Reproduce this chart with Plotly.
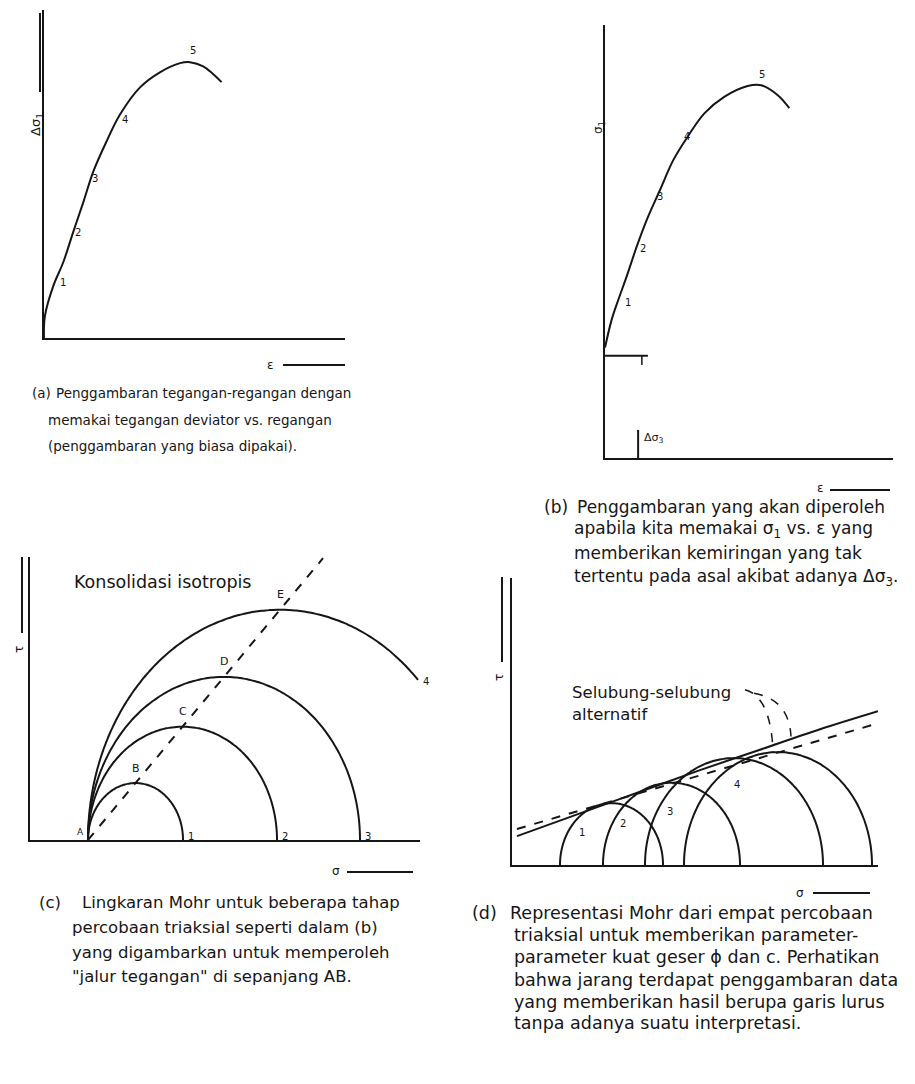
import numpy as np
import plotly.graph_objects as go

W, H = 915, 1084
INK = "#161616"
FONT = "DejaVu Sans"

# ---------------------------------------------------------------------------
# data
# ---------------------------------------------------------------------------

# (a) deviator stress vs strain
a_strain = [0, 0.3, 3.1, 6.4, 9.7, 13.1, 16.4, 20.8, 25.3, 31.9, 38.5, 45.2, 48.5, 52.9, 59.0]
a_dev = [0, 6.7, 15.9, 23.1, 32.3, 41.5, 50.8, 60.0, 68.2, 76.4, 81.0, 83.8, 84.1, 82.8, 78.0]
a_stage = ["1", "2", "3", "4", "5"]
a_stage_x = [6.4, 11.4, 16.9, 26.9, 49.4]
a_stage_y = [16.9, 32.3, 48.7, 66.7, 87.7]

# (b) sigma1 vs strain, starting at the delta-sigma3 offset
b_strain = [0, 2.3, 4.6, 7.5, 11.0, 14.5, 19.1, 23.7, 28.7, 34.5, 41.4, 49.5, 54.2, 60.0, 64.0]
b_sigma1 = [25.5, 31.9, 36.5, 41.9, 48.8, 55.0, 61.9, 68.8, 74.2, 79.6, 83.4, 85.9, 86.1, 83.8, 80.8]
b_stage = ["1", "2", "3", "4", "5"]
b_stage_x = [8.0, 13.2, 19.1, 28.4, 54.4]
b_stage_y = [36.0, 48.3, 60.3, 74.2, 88.5]
b_d3_level = 23.6
b_d3_strain = 11.5

# (c) Mohr circles, isotropic consolidation (all share sigma3 at A)
c_sigma3 = [58, 58, 58, 58]
c_sigma1 = [153, 247, 330, 442]
c_arc_end = [153, 247, 330, 388]
c_circle_lbl = ["1", "2", "3", "4"]
c_top_lbl = ["B", "C", "D", "E"]
c_path_x = [58, 293]
c_path_y = [0, 235]

# (d) Mohr circles of four triaxial tests and alternative envelopes
d_sigma3 = [48, 91, 133, 172]
d_sigma1 = [151, 228, 311, 360]
d_lbl = ["1", "2", "3", "4"]
d_lbl_x = [69.7, 111.3, 158.0, 224.7]
d_lbl_y = [26.8, 34.3, 44.8, 67.3]
d_env_x = [5, 68, 128, 188, 248, 308, 366]
d_env_y = [24, 43, 61, 79, 96, 113, 128]
d_env2_x = [5, 366]
d_env2_y = [30, 118]

cap_a = ["Penggambaran tegangan-regangan dengan",
         "memakai tegangan deviator vs. regangan",
         "(penggambaran yang biasa dipakai)."]
cap_b = ["Penggambaran yang akan diperoleh",
         "apabila kita memakai σ<sub>1</sub> vs. ε yang",
         "memberikan kemiringan yang tak",
         "tertentu pada asal akibat adanya Δσ<sub>3</sub>."]
cap_c = ["Lingkaran Mohr untuk beberapa tahap",
         "percobaan triaksial seperti dalam (b)",
         "yang digambarkan untuk memperoleh",
         "\"jalur tegangan\" di sepanjang AB."]
cap_d = ["Representasi Mohr dari empat percobaan",
         "triaksial untuk memberikan parameter-",
         "parameter kuat geser ϕ dan c. Perhatikan",
         "bahwa jarang terdapat penggambaran data",
         "yang memberikan hasil berupa garis lurus",
         "tanpa adanya suatu interpretasi."]


def px(x):
    return x / W


def py(y):
    return 1 - y / H


def semicircle(s3, s1, s_end):
    c, r = (s1 + s3) / 2, (s1 - s3) / 2
    t_end = np.arccos(np.clip((s_end - c) / r, -1, 1))
    t = np.linspace(np.pi, t_end, 120)
    return c + r * np.cos(t), r * np.sin(t)


fig = go.Figure()


def line(x, y, ax, dash="solid", width=2):
    fig.add_trace(go.Scatter(x=x, y=y, xaxis="x" + ax, yaxis="y" + ax, mode="lines",
                             line=dict(color=INK, width=width, dash=dash, shape="spline"),
                             hoverinfo="skip", showlegend=False))


def note(text, x, y, size=13, xanchor="left", angle=0, ref=None, **kw):
    if ref is None:
        xr, yr, x, y = "paper", "paper", px(x), py(y)
    else:
        xr, yr = "x" + ref, "y" + ref
    fig.add_annotation(text=text, x=x, y=y, xref=xr, yref=yr, showarrow=False,
                       xanchor=xanchor, yanchor="middle", textangle=angle,
                       font=dict(family=FONT, size=size, color=INK), **kw)


def seg(x0, y0, x1, y1, width=2):
    fig.add_shape(type="line", xref="paper", yref="paper", x0=px(x0), y0=py(y0),
                  x1=px(x1), y1=py(y1), line=dict(color=INK, width=width))


# ---- (a) --------------------------------------------------------------------
line(a_strain, a_dev, "")
for t, x, y in zip(a_stage, a_stage_x, a_stage_y):
    note(t, x, y, size=10, ref="", xanchor="center")
note("Δσ<sub>1</sub>", 36, 125, size=13, xanchor="center", angle=-90)
seg(40, 13, 40, 92)
note("ε", 270, 365, size=12, xanchor="center")
seg(283, 365, 345, 365)

# ---- (b) --------------------------------------------------------------------
line(b_strain, b_sigma1, "2")
line([0, 14.9], [b_d3_level, b_d3_level], "2")
line([12.8, 12.8], [b_d3_level, b_d3_level - 2.1], "2", width=1.5)
line([b_d3_strain, b_d3_strain], [0, 6.5], "2")
note("Δσ<sub>3</sub>", 17, 4.6, size=11, ref="2", xanchor="center")
for t, x, y in zip(b_stage, b_stage_x, b_stage_y):
    note(t, x, y, size=10, ref="2", xanchor="center")
note("σ<sub>1</sub>", 599, 128, size=12, xanchor="center", angle=-90)
seg(604, 26, 604, 107)
note("ε", 820, 488, size=12, xanchor="center")
seg(830, 490, 890, 490)

# ---- (c) --------------------------------------------------------------------
for s3, s1, se in zip(c_sigma3, c_sigma1, c_arc_end):
    cx, cy = semicircle(s3, s1, se)
    line(cx, cy, "3")
line(c_path_x, c_path_y, "3", dash="dash")
for i, (s3, s1) in enumerate(zip(c_sigma3, c_sigma1)):
    r = (s1 - s3) / 2
    note(c_top_lbl[i], s3 + r, r, size=11, ref="3", xanchor="center", yshift=15)
    if i < 3:
        note(c_circle_lbl[i], s1, 0, size=10, ref="3", xanchor="left", xshift=3, yshift=4)
cx4, cy4 = semicircle(c_sigma3[3], c_sigma1[3], c_arc_end[3])
note(c_circle_lbl[3], cx4[-1], cy4[-1], size=10, ref="3", xanchor="left", xshift=3, yshift=-2)
note("A", c_sigma3[0], 0, size=9, ref="3", xanchor="right", xshift=-2, yshift=8)
note("Konsolidasi isotropis", 72, 582, size=17.5)
note("τ", 19, 650, size=12, xanchor="center", angle=-90)
seg(22, 557, 22, 633)
note("σ", 336, 871, size=12, xanchor="center")
seg(347, 872, 413, 872)

# ---- (d) --------------------------------------------------------------------
for s3, s1 in zip(d_sigma3, d_sigma1):
    cx, cy = semicircle(s3, s1, s1)
    line(cx, cy, "4")
line(d_env_x, d_env_y, "4")
line(d_env2_x, d_env2_y, "4", dash="dash")
for t, x, y in zip(d_lbl, d_lbl_x, d_lbl_y):
    note(t, x, y, size=10, ref="4", xanchor="center")
note("Selubung-selubung", 570, 693, size=16.5)
note("alternatif", 570, 714, size=16.5)
for path in ("M 233,146 Q 259,140 261,94", "M 242,143 Q 277,138 279,107"):
    fig.add_shape(type="path", xref="x4", yref="y4", path=path,
                  line=dict(color=INK, width=1.5, dash="dash"))
note("τ", 499, 678, size=12, xanchor="center", angle=-90)
seg(502, 577, 502, 662)
note("σ", 800, 893, size=12, xanchor="center")
seg(813, 893, 870, 893)

# ---- captions ---------------------------------------------------------------
note("(a)", 30, 393, size=13.5)
for i, (t, y) in enumerate(zip(cap_a, [393, 420, 446])):
    note(t, 54 if i == 0 else 46, y, size=13.5)
note("(b)", 542, 507, size=17)
for i, (t, y) in enumerate(zip(cap_b, [507, 530, 553, 577])):
    note(t, 575 if i == 0 else 572, y, size=17)
note("(c)", 37, 902, size=16.5)
for i, (t, y) in enumerate(zip(cap_c, [902, 927, 952, 976])):
    note(t, 80 if i == 0 else 70, y, size=16.5)
note("(d)", 470, 913, size=17.5)
for i, (t, y) in enumerate(zip(cap_d, [913, 935, 957, 980, 1002, 1023])):
    note(t, 508 if i == 0 else 512, y, size=17.5)

# ---- axes -------------------------------------------------------------------
panels = {
    "": ((44, 345), (10, 338), (0, 100), (0, 100)),
    "2": ((605, 893), (25, 458), (0, 100), (0, 100)),
    "3": ((30, 420), (557, 840), (0, 390), (0, 236)),
    "4": ((512, 878), (578, 865), (0, 366), (0, 239)),
}
ax_style = dict(showgrid=False, zeroline=False, showticklabels=False, ticks="",
                showline=True, linecolor=INK, linewidth=2, fixedrange=True)
for k, (xd, yd, xr, yr) in panels.items():
    fig.update_layout({
        "xaxis" + k: dict(domain=[px(xd[0]), px(xd[1])], range=list(xr),
                          anchor="y" + k, **ax_style),
        "yaxis" + k: dict(domain=[py(yd[1]), py(yd[0])], range=list(yr),
                          anchor="x" + k, **ax_style),
    })

fig.update_layout(width=W, height=H, autosize=False,
                  margin=dict(l=0, r=0, t=0, b=0),
                  paper_bgcolor="white", plot_bgcolor="white")

fig.write_html("out.html", config={"displayModeBar": False},
               post_script="document.body.style.margin='0';")
